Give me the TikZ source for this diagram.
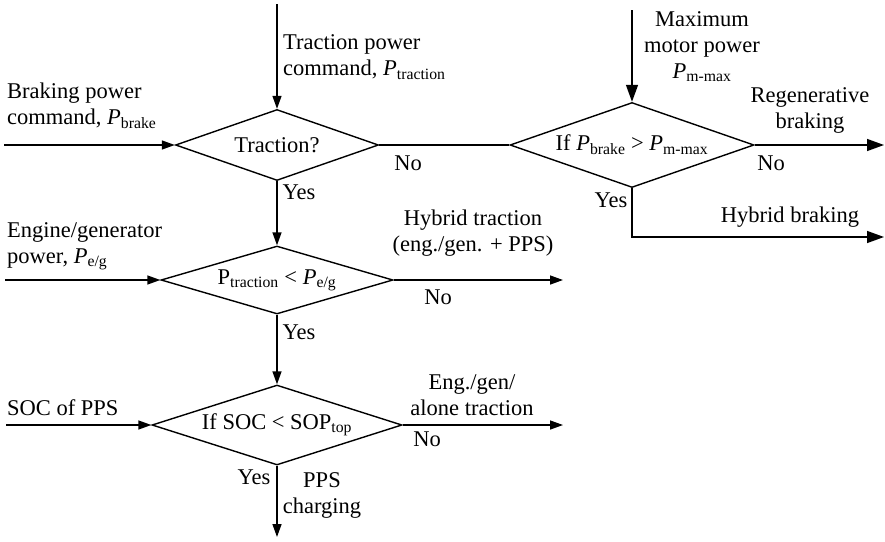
\documentclass[tikz,border=0pt]{standalone}
\usepackage{fontspec}
\setmainfont{Liberation Serif}
\usepackage{tikz}
\usetikzlibrary{shapes,arrows.meta,positioning,calc}

\newcommand{\pwr}[1]{\textit{P}\textsubscript{#1}}

\begin{document}
\begin{tikzpicture}[
    x=1pt, y=-1pt,
    font=\fontsize{22.5}{26}\selectfont,
    decision/.style={diamond, draw, line width=1.4pt, inner sep=0pt, text centered},
    txt/.style={inner sep=0pt, align=center},
    ltxt/.style={inner sep=0pt, align=left, anchor=west},
    line/.style={-, line width=1.4pt},
    arrow/.style={-{Triangle[length=13pt,width=9pt]}, line width=1.4pt},
    bigarrow/.style={-{Triangle[length=17pt,width=12pt]}, line width=1.4pt}
]
\useasboundingbox (0,0) rectangle (885,541);

% Decisions
\node[decision, minimum width=203pt, minimum height=71pt, aspect=2.86] (traction) at (277,145) {Traction?};
\node[decision, minimum width=244pt, minimum height=85pt, aspect=2.87] (brake) at (632,145) {If \pwr{brake} > \pwr{m-max}};
\node[decision, minimum width=232pt, minimum height=68pt, aspect=3.41] (engine) at (277,280) {P\textsubscript{traction} < \pwr{e/g}};
\node[decision, minimum width=250pt, minimum height=80pt, aspect=3.125] (soc) at (277,425) {If SOC < SOP\textsubscript{top}};

% Free ends
\coordinate (tractionin) at (277,4);
\coordinate (brakein) at (4,145);
\coordinate (motorin) at (632,10);
\coordinate (regenout) at (884,145);
\coordinate (hybbrakeout) at (884,237);
\coordinate (enginein) at (5,280);
\coordinate (hybtractout) at (563,280);
\coordinate (socin) at (6,425);
\coordinate (aloneout) at (563,425);
\coordinate (chargeout) at (277,537);

% Inputs and outputs
\node[ltxt] (tractioncmd) at (283,57) {Traction power\\command, \pwr{traction}};
\node[ltxt] (brakecmd) at (7,106) {Braking power\\command, \pwr{brake}};
\node[txt] (maxmotor) at (702,47) {Maximum\\motor power\\\pwr{m-max}};
\node[txt] (regen) at (810,110) {Regenerative\\braking};
\node[txt] (hybbrake) at (790,217) {Hybrid braking};
\node[ltxt] (enginepwr) at (7,246) {Engine/generator\\power, \pwr{e/g}};
\node[txt] (hybtract) at (473,233) {Hybrid traction\\(eng./gen. + PPS)};
\node[ltxt] (socpps) at (7,408) {SOC of PPS};
\node[txt] (alone) at (472,395) {Eng./gen/\\alone traction};
\node[txt] (charging) at (322,495) {PPS\\charging};

% Yes / No
\node[txt] (no1) at (408,163) {No};
\node[txt] (yes1) at (299,192) {Yes};
\node[txt] (no2) at (771,163) {No};
\node[txt] (yes2) at (611,200) {Yes};
\node[txt] (no3) at (438,297) {No};
\node[txt] (yes3) at (299,332) {Yes};
\node[txt] (no4) at (427,439) {No};
\node[txt] (yes4) at (254,477) {Yes};

% Connections
\draw[arrow] (tractionin) -- (traction);
\draw[arrow] (brakein) -- (traction);
\draw[line] (traction) -- (brake);
\draw[bigarrow] (motorin) -- (brake);
\draw[bigarrow] (brake) -- (regenout);
\draw[bigarrow] (brake.south) |- (hybbrakeout);
\draw[arrow] (traction) -- (engine);
\draw[arrow] (enginein) -- (engine);
\draw[arrow] (engine) -- (hybtractout);
\draw[arrow] (engine) -- (soc);
\draw[arrow] (socin) -- (soc);
\draw[arrow] (soc) -- (aloneout);
\draw[arrow] (soc) -- (chargeout);

\end{tikzpicture}
\end{document}
